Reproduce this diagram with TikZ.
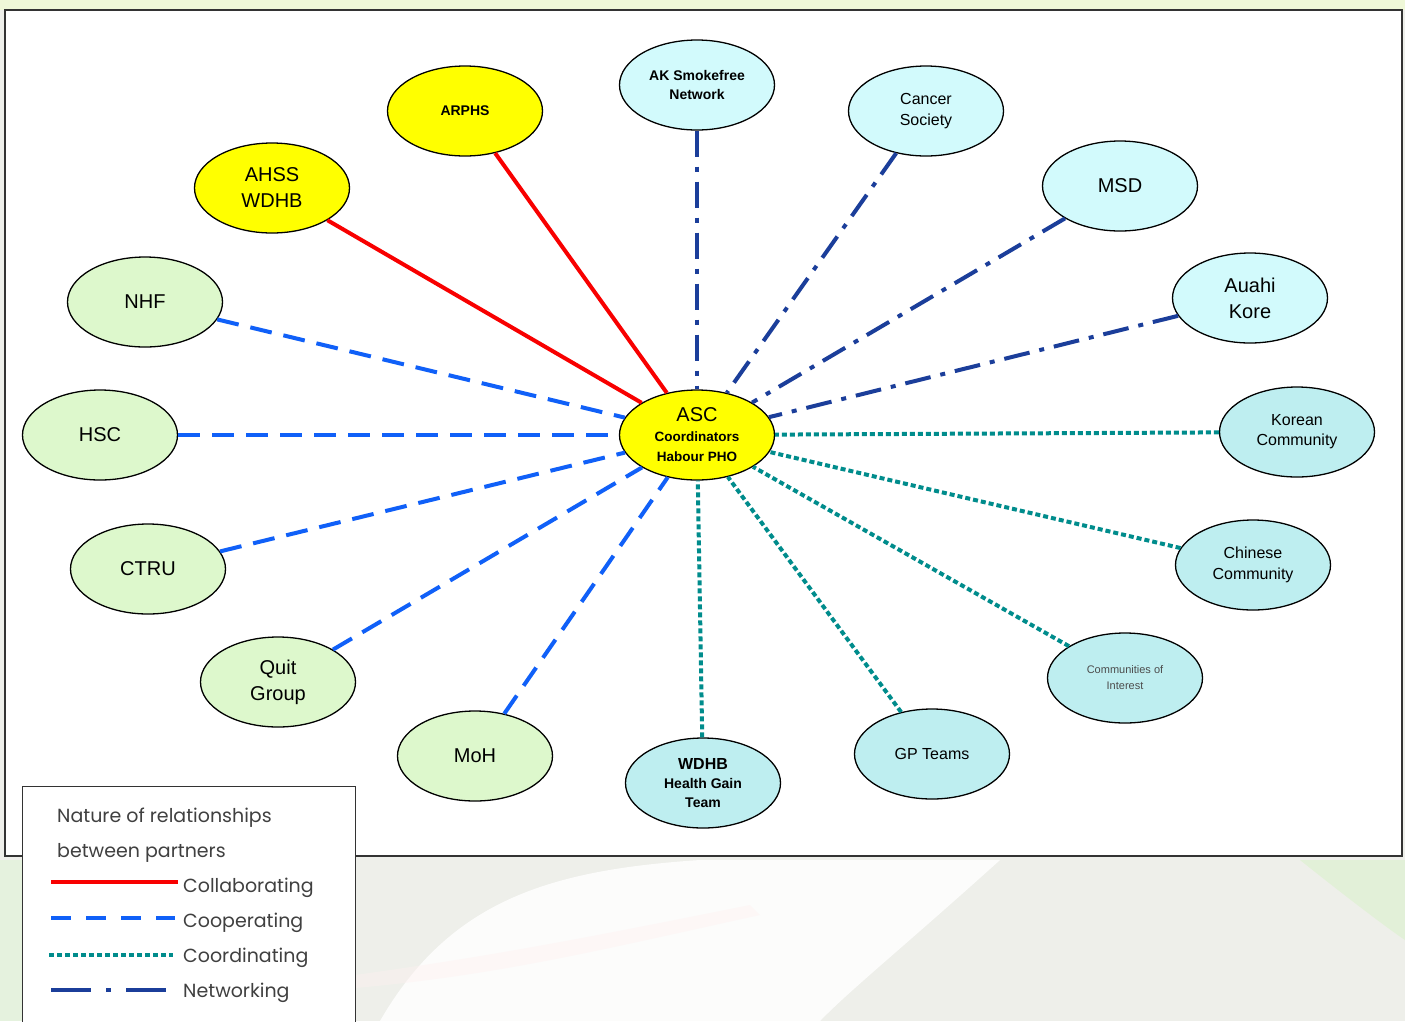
\documentclass[tikz,border=0pt]{standalone}
\usepackage{fontspec}
\setmainfont{Liberation Sans}
\newfontfamily\legendfont{Poppins}
\usetikzlibrary{shapes.geometric}
\definecolor{yel}{HTML}{FFFF00}
\definecolor{cyanA}{HTML}{D2FAFC}
\definecolor{cyanB}{HTML}{BEEEF0}
\definecolor{grn}{HTML}{DDF8CC}
\definecolor{coopblue}{HTML}{1060F8}
\definecolor{coordteal}{HTML}{008C8C}
\definecolor{netblue}{HTML}{1B3E9A}
\definecolor{collred}{HTML}{F80000}
\definecolor{bgA}{HTML}{EEEFEA}
\tikzset{
  partner/.style={ellipse, draw=black, line width=1.3pt, minimum width=155pt, minimum height=90pt, inner sep=0pt, align=center, font=\fontsize{20}{26}\selectfont},
  smalltxt/.style={font=\fontsize{14}{19}\selectfont\bfseries},
  collab/.style={draw=collred, line width=4pt},
  coop/.style={draw=coopblue, line width=4pt, dash pattern=on 22pt off 12pt},
  coord/.style={draw=coordteal, line width=4pt, dash pattern=on 5pt off 3pt},
  netw/.style={draw=netblue, line width=4pt, dash pattern=on 26pt off 10pt on 5pt off 10pt},
  legtxt/.style={anchor=west, text=black!75, font=\legendfont\fontsize{19}{22}\selectfont, inner sep=0pt}
}
\begin{document}
\begin{tikzpicture}[x=1pt,y=-1pt]
\useasboundingbox (0,0) rectangle (1405,1021);
% background (blurred photo approximation)
\fill[bgA] (0,0) rectangle (1405,1021);
\fill[green!30!yellow!20, opacity=0.6] (0,0) rectangle (1405,10);
\fill[yellow!25!green!15, opacity=0.7] (0,860) rectangle (22,1021);
\fill[white, opacity=0.85] (380,1021) .. controls (450,900) and (550,870) .. (700,860) -- (1000,860) .. controls (900,950) and (850,990) .. (820,1021) -- cycle;
\fill[yellow!30!green!20, opacity=0.6] (1300,860) .. controls (1350,900) and (1390,930) .. (1405,940) -- (1405,860) -- cycle;
\fill[red!6, opacity=0.4] (355,975) .. controls (500,955) and (600,935) .. (750,905) -- (760,915) .. controls (600,950) and (500,975) .. (355,988) -- cycle;
% main frame
\draw[fill=white, line width=1.3pt, draw=black!80] (5,10) rectangle (1402,856);

% nodes
\node[partner, fill=yel, yshift=1pt] (asc) at (697,436) {ASC\\[-6pt]{\fontsize{13.5}{18}\selectfont\bfseries Coordinators}\\[-6pt]{\fontsize{13.5}{18}\selectfont\bfseries Habour PHO}};
\node[partner, fill=yel, smalltxt] (arphs) at (465,111) {ARPHS};
\node[partner, fill=yel] (ahss) at (272,188) {AHSS\\WDHB};
\node[partner, fill=cyanA, smalltxt] (ak) at (697,85) {AK Smokefree\\Network};
\node[partner, fill=cyanA, font=\fontsize{16}{21}\selectfont] (cancer) at (926,111) {Cancer\\Society};
\node[partner, fill=cyanA] (msd) at (1120,186) {MSD};
\node[partner, fill=cyanA] (auahi) at (1250,298) {Auahi\\Kore};
\node[partner, fill=cyanB, font=\fontsize{16}{20}\selectfont] (korean) at (1297,432) {Korean\\Community};
\node[partner, fill=cyanB, font=\fontsize{16}{21}\selectfont] (chinese) at (1253,565) {Chinese\\Community};
\node[partner, fill=cyanB, font=\fontsize{11}{16}\selectfont, text=black!70] (coi) at (1125,678) {Communities of\\Interest};
\node[partner, fill=cyanB, font=\fontsize{16}{20}\selectfont] (gp) at (932,754) {GP Teams};
\node[partner, fill=cyanB, smalltxt] (wdhb) at (703,783) {{\fontsize{16}{20}\selectfont WDHB}\\Health Gain\\Team};
\node[partner, fill=grn] (moh) at (475,756) {MoH};
\node[partner, fill=grn] (quit) at (278,682) {Quit\\Group};
\node[partner, fill=grn] (ctru) at (148,569) {CTRU};
\node[partner, fill=grn] (hsc) at (100,435) {HSC};
\node[partner, fill=grn] (nhf) at (145,302) {NHF};

% connectors
\draw[collab] (ahss) -- (asc);
\draw[collab] (arphs) -- (asc);
\draw[netw] (ak) -- (asc);
\draw[netw] (cancer) -- (asc);
\draw[netw] (msd) -- (asc);
\draw[netw] (auahi) -- (asc);
\draw[coord] (korean) -- (asc);
\draw[coord] (chinese) -- (asc);
\draw[coord] (coi) -- (asc);
\draw[coord] (gp) -- (asc);
\draw[coord] (wdhb) -- (asc);
\draw[coop] (nhf) -- (asc);
\draw[coop] (hsc) -- (asc);
\draw[coop] (ctru) -- (asc);
\draw[coop] (quit) -- (asc);
\draw[coop] (moh) -- (asc);

% legend
\node[draw=black!80, line width=1.2pt, fill=white, minimum width=333pt, minimum height=250pt, anchor=north west, inner sep=0pt] (legend) at (22,786) {};
\node[legtxt] (lt1) at (57,818) {Nature of relationships};
\node[legtxt] (lt2) at (57,853) {between partners};
\node[legtxt] (lcol) at (183,888) {Collaborating};
\node[legtxt] (lcoop) at (183,923) {Cooperating};
\node[legtxt] (lcoord) at (183,958) {Coordinating};
\node[legtxt] (lnet) at (183,993) {Networking};
\coordinate (c1a) at (51,882); \coordinate (c1b) at (178,882);
\coordinate (c2a) at (51,918); \coordinate (c2b) at (175,918);
\coordinate (c3a) at (49,955); \coordinate (c3b) at (173,955);
\coordinate (c4a) at (51,990); \coordinate (c4b) at (166,990);
\draw[collab] (c1a) -- (c1b);
\draw[coop, dash pattern=on 20pt off 15pt] (c2a) -- (c2b);
\draw[coord, dash pattern=on 5pt off 3pt] (c3a) -- (c3b);
\draw[netw, dash pattern=on 40pt off 15pt on 5pt off 15pt] (c4a) -- (c4b);
\end{tikzpicture}
\end{document}
